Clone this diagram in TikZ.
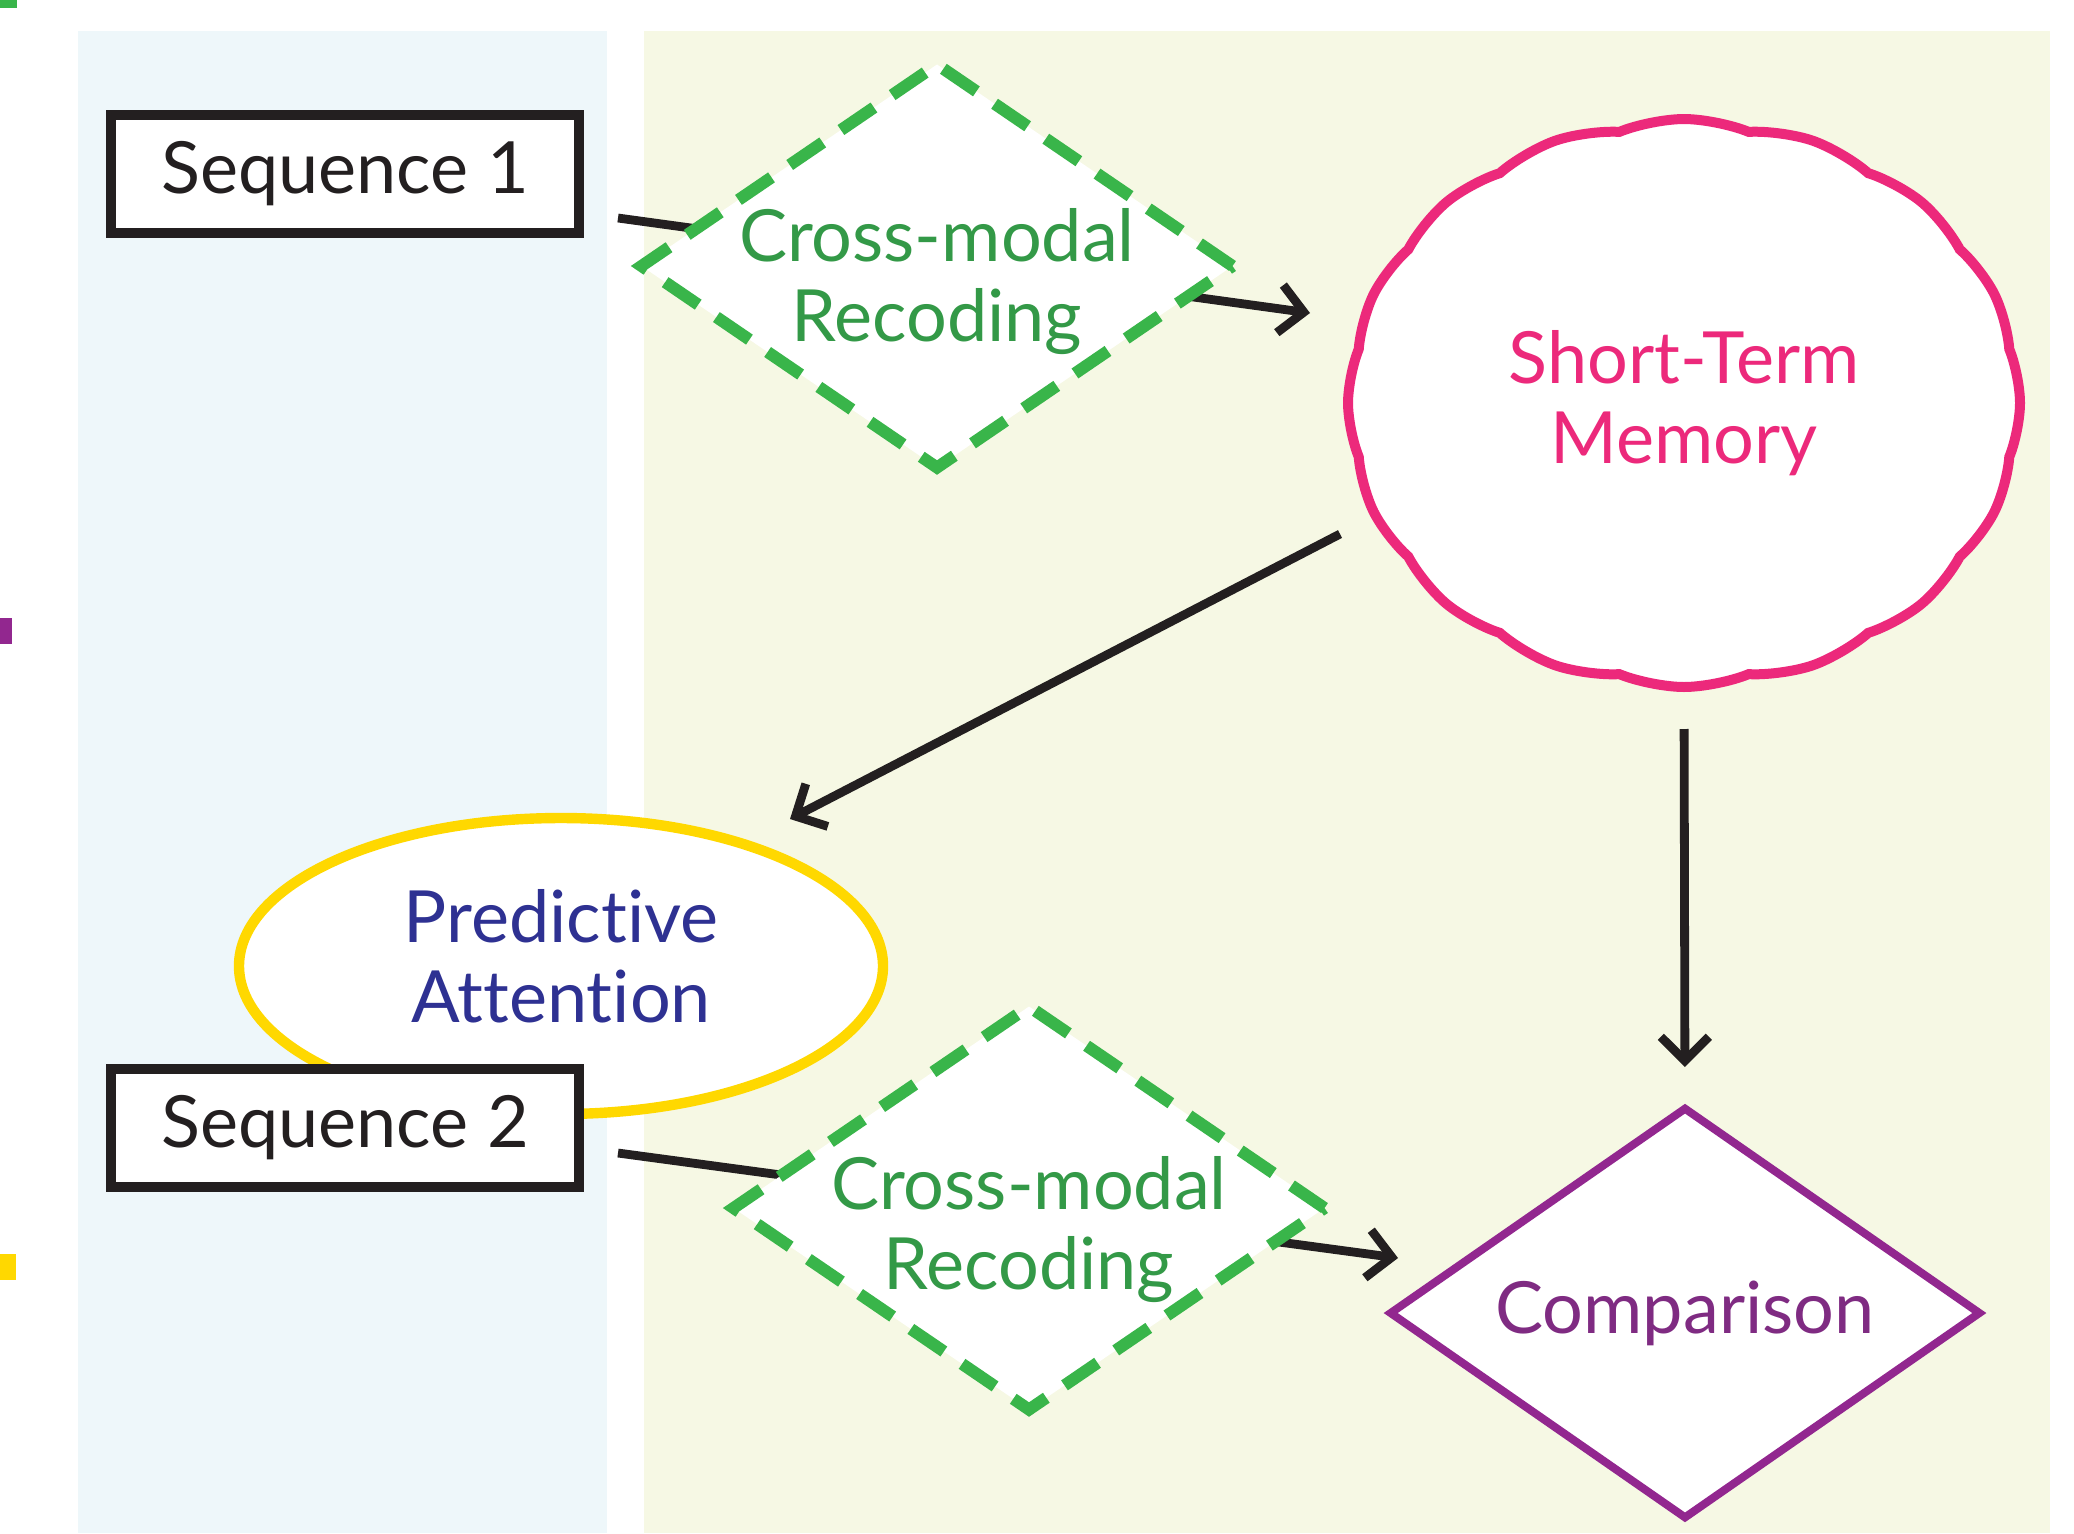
\documentclass[tikz,border=0pt]{standalone}
\usepackage{fontspec}
\setmainfont{Lato}[Ligatures=NoCommon]
\usetikzlibrary{shapes.geometric,shapes.symbols,arrows.meta}

\definecolor{ink}{HTML}{231F20}
\definecolor{panelblue}{HTML}{EEF7FA}
\definecolor{panelbeige}{HTML}{F6F8E4}
\definecolor{recgreen}{HTML}{39B54A}
\definecolor{recgreentext}{HTML}{339947}
\definecolor{stmpink}{HTML}{EC297B}
\definecolor{payellow}{HTML}{FFD800}
\definecolor{panavy}{HTML}{2E3192}
\definecolor{cmppurple}{HTML}{92278F}
\definecolor{cmptext}{HTML}{7F2B82}

\tikzset{
  lbl/.style={font=\fontsize{18}{20}\selectfont, align=center},
  seqbox/.style={lbl, draw=ink, line width=2.5pt, fill=white, text=ink,
    minimum width=117pt, minimum height=29.5pt, inner sep=0pt},
  recode/.style={diamond, draw=recgreen, line width=3pt,
    dash pattern=on 10pt off 5.5pt, fill=white,
    minimum width=149pt, minimum height=102pt, inner sep=0pt},
  recodetext/.style={lbl, text=recgreentext},
  memory/.style={lbl, cloud, cloud puffs=16, cloud puff arc=45,
    cloud ignores aspect, draw=stmpink, line width=2.5pt, fill=white,
    text=stmpink, minimum width=168pt, minimum height=142pt},
  attend/.style={lbl, ellipse, draw=payellow, line width=2.6pt, fill=white,
    text=panavy, minimum width=161pt, minimum height=74pt, inner sep=0pt},
  compare/.style={lbl, diamond, draw=cmppurple, line width=2pt, fill=white,
    text=cmptext, aspect=1.44, minimum width=148pt, minimum height=103pt,
    inner sep=0pt},
  link/.style={draw=ink, line width=2.2pt, -{Straight Barb[length=6pt,width=12pt]}}
}

\begin{document}
\begin{tikzpicture}[x=0.25pt,y=-0.25pt]
  \useasboundingbox (0,0) rectangle (2074,1533);
  % panels
  \fill[panelblue] (78,31) rectangle (607,1533);
  \fill[panelbeige] (644,31) rectangle (2050,1533);
  \fill[recgreen] (0,0) rectangle (17,8);
  \fill[cmppurple] (0,618) rectangle (12,644);
  \fill[payellow] (0,1254) rectangle (16,1280);

  % blocks
  \node[attend] (pa) at (561,966) {\raisebox{1.5pt}{\begin{tabular}{@{}c@{}}Predictive\\Attention\end{tabular}}};
  \node[seqbox] (seq1) at (345,174) {Sequence 1};
  \node[seqbox] (seq2) at (345,1128) {Sequence 2};
  \node[memory] (stm) at (1684,403) {Short-Term\\Memory};
  \node[compare] (cmp) at (1685,1313) {\raisebox{3pt}{Comparison}};

  % free ends of the links
  \coordinate (s1out) at (618,218);
  \coordinate (stmin) at (1310,313);
  \coordinate (stmout) at (1340,534);
  \coordinate (pain) at (790,819);
  \coordinate (s2out) at (618,1153);
  \coordinate (cmpin) at (1398,1258);

  \draw[link] (s1out) -- (stmin);
  \draw[link] (s2out) -- (cmpin);
  \draw[link] (stmout) -- (pain);
  \draw[link, shorten <=9.25pt, shorten >=9pt] (stm.south) -- (cmp.north);

  % recoding steps sit over the links
  \node[recode, label={[recodetext, yshift=-4pt]center:Cross-modal\\Recoding}] (rec1) at (937,266) {};
  \node[recode, label={[recodetext, yshift=-5.5pt]center:Cross-modal\\Recoding}] (rec2) at (1029,1208) {};
\end{tikzpicture}
\end{document}
